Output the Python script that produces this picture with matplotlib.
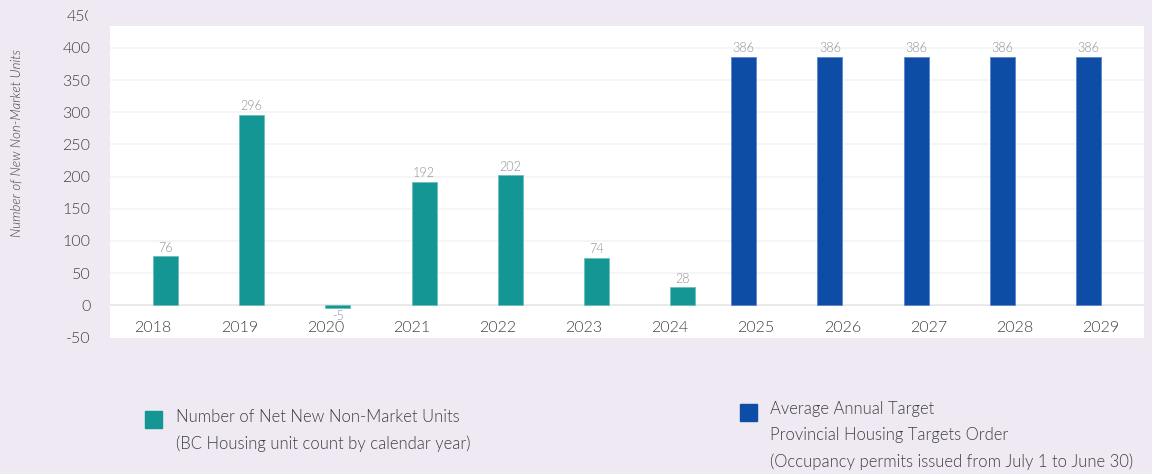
import numpy as np
import matplotlib
matplotlib.use("Agg")
import matplotlib.pyplot as plt
from matplotlib.transforms import Bbox, TransformedBbox

plt.rcParams["font.family"] = ["Lato", "DejaVu Sans"]
plt.rcParams["font.weight"] = 300

# données
annees = ["2018", "2019", "2020", "2021", "2022", "2023", "2024",
          "2025", "2026", "2027", "2028", "2029"]
unites_nettes = [76, 296, -5, 192, 202, 74, 28, None, None, None, None, None]
cible_annuelle = [None, None, None, None, None, None, None, 386, 386, 386, 386, 386]
graduations_y = [-50, 0, 50, 100, 150, 200, 250, 300, 350, 400]

legende_unites = "Number of Net New Non-Market Units\n(BC Housing unit count by calendar year)"
legende_cible = ("Average Annual Target\nProvincial Housing Targets Order\n"
                 "(Occupancy permits issued from July 1 to June 30)")

TEAL = "#149694"
BLEU = "#0D4DA6"
FOND = "#EEE9F3"
GRIS_VAL = "#8e8e9a"
TEXTE = "#3f3f3f"

fig = plt.figure(figsize=(11.52, 4.74), dpi=100, facecolor=FOND)
ax = fig.add_axes([110 / 1152, 1 - 338 / 474, 1034 / 1152, 312 / 474])
ax.set_facecolor("white")

x = np.arange(len(annees))
largeur = 0.29

# barres bleues (cible) puis vertes (unités réelles)
xb = [xi - 0.145 for xi, v in zip(x, cible_annuelle) if v is not None]
vb = [v for v in cible_annuelle if v is not None]
xt = [xi + 0.145 for xi, v in zip(x, unites_nettes) if v is not None]
vt = [v for v in unites_nettes if v is not None]

ax.bar(xb, vb, width=largeur, color=BLEU, edgecolor="#5b86c9", linewidth=0.6, zorder=3)
ax.bar(xt, vt, width=largeur, color=TEAL, edgecolor="#6cc0bc", linewidth=0.6, zorder=3)

# étiquettes des valeurs
for xi, v in list(zip(xb, vb)) + list(zip(xt, vt)):
    if v >= 0:
        ax.text(xi, v + 4, str(v), ha="center", va="bottom", fontsize=9, color=GRIS_VAL)
    else:
        ax.text(xi, v - 2, str(v), ha="center", va="top", fontsize=9, color=GRIS_VAL)

ax.set_xlim(-0.5, 11.5)
ax.set_ylim(-51, 434)

ax.set_yticks(graduations_y)
ax.set_yticklabels([str(g) for g in graduations_y])
ax.tick_params(axis="y", length=0, pad=14, labelsize=11.5, labelcolor=TEXTE)
for g in graduations_y[1:]:
    ax.axhline(g, color="#e6e6e6" if g == 0 else "#f3f3f3", linewidth=1.2, zorder=1)

ax.set_xticks(x)
ax.set_xticklabels(annees)
ax.tick_params(axis="x", length=0, pad=-12.5, labelsize=11.5, labelcolor=TEXTE)

for s in ax.spines.values():
    s.set_visible(False)

# le "450" coupé en haut
t450 = fig.text(95 / 1152, 1 - 17 / 474, "450", ha="right", va="center",
                fontsize=11.5, color=TEXTE)
t450.set_clip_box(TransformedBbox(Bbox([[0, 0], [88 / 1152, 1]]), fig.transFigure))

fig.text(17 / 1152, 1 - 143 / 474, "Number of New Non-Market Units", rotation=90,
         ha="center", va="center", fontsize=9.5, style="italic", color=TEXTE)

# légende
fig.patches.append(plt.Rectangle((145 / 1152, 1 - 428 / 474), 17 / 1152, 17 / 474,
                                 transform=fig.transFigure, color=TEAL, figure=fig))
fig.text(176 / 1152, 1 - 409 / 474, legende_unites, ha="left", va="top",
         fontsize=12, color=TEXTE, linespacing=1.75)
fig.patches.append(plt.Rectangle((740 / 1152, 1 - 421 / 474), 17 / 1152, 17 / 474,
                                 transform=fig.transFigure, color=BLEU, figure=fig))
fig.text(770 / 1152, 1 - 401 / 474, legende_cible, ha="left", va="top",
         fontsize=12, color=TEXTE, linespacing=1.75)

fig.savefig("out.png", dpi=100, facecolor=FOND)
